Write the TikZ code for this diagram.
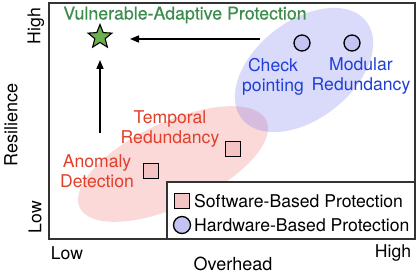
\documentclass[tikz,border=0pt]{standalone}
\usepackage{fontspec}
\setmainfont{TeX Gyre Heros}
\newfontfamily\titlefont[FakeBold=0.35]{TeX Gyre Heros}
\usetikzlibrary{shapes.geometric,arrows.meta}
\definecolor{txtred}{HTML}{E0402A}
\definecolor{txtblue}{HTML}{1F3FD8}
\definecolor{txtgreen}{HTML}{3C8C4C}
\definecolor{sqpink}{HTML}{F4C4C4}
\definecolor{circblue}{HTML}{C4C4F4}
\definecolor{ellred}{HTML}{EE6B6B}
\definecolor{ellblue}{HTML}{6B6BEE}
\definecolor{stargreen}{HTML}{6AB04C}
\definecolor{framegray}{HTML}{333333}
\tikzset{
  lbl/.style={font=\fontsize{17.6}{20}\selectfont, align=center, inner sep=0pt},
  axlbl/.style={font=\fontsize{17.6}{20}\selectfont, inner sep=0pt},
  swsq/.style={draw=black, line width=1.3pt, fill=sqpink, minimum size=15.5pt, inner sep=0pt},
  hwc/.style={circle, draw=black, line width=1.3pt, fill=circblue, minimum size=16pt, inner sep=0pt},
  arr/.style={line width=1.5pt, -{Triangle[length=9pt,width=7pt]}},
}
\begin{document}
\begin{tikzpicture}[x=1pt,y=1pt]
\useasboundingbox (0,0) rectangle (420,273);
% ellipses
\fill[ellred, opacity=0.26, rotate around={25:(173,109)}] (173,109) ellipse [x radius=103, y radius=42];
\fill[ellblue, opacity=0.25, rotate around={38:(304,203)}] (304,203) ellipse [x radius=79, y radius=49];
% frame
\draw[framegray, line width=1.1pt] (49,34) rectangle (415,270);
% legend box
\draw[framegray, line width=1.1pt, fill=white] (167,34) rectangle (415,91);
\node[swsq] (lsq) at (182,72) {};
\node[hwc, minimum size=17pt] (lci) at (182,48) {};
\node[lbl, anchor=west] (lsw) at (194,72) {Software-Based Protection};
\node[lbl, anchor=west] (lhw) at (194,48) {Hardware-Based Protection};
% title
\node[lbl, text=txtgreen, font=\titlefont\fontsize{17.8}{20}\selectfont] (title) at (185,258) {Vulnerable-Adaptive Protection};
% star
\node[star, star points=5, star point ratio=2.3, minimum size=25pt, inner sep=0pt, draw=black, line width=1.1pt, fill=stargreen] (star) at (100,236) {};
% arrows
\coordinate (hstart) at (260,234);
\coordinate (hend) at (130,234);
\coordinate (vstart) at (100,140);
\coordinate (vend) at (100,213);
\draw[arr] (hstart) -- (hend);
\draw[arr] (vstart) -- (vend);
% hardware circles
\node[hwc] (cp) at (302,230) {};
\node[hwc] (mr) at (352,230) {};
\node[lbl, text=txtblue] (cptxt) at (273,196.5) {Check\\pointing};
\node[lbl, text=txtblue] (mrtxt) at (361,196.5) {Modular\\Redundancy};
% software squares
\node[swsq] (ad) at (151,102) {};
\node[swsq] (tr) at (233,124) {};
\node[lbl, text=txtred] (trtxt) at (170,144) {Temporal\\Redundancy};
\node[lbl, text=txtred] (adtxt) at (97,101.5) {Anomaly\\Detection};
% axis labels
\node[axlbl, font=\fontsize{18}{20}\selectfont, rotate=90] (res) at (11,148) {Resilience};
\node[axlbl, rotate=90] (yhigh) at (36,247) {High};
\node[axlbl, rotate=90] (ylow) at (35,56) {Low};
\node[axlbl] (xlow) at (67,20) {Low};
\node[axlbl] (xhigh) at (393,20) {High};
\node[axlbl, font=\fontsize{18}{20}\selectfont] (ovh) at (233,9) {Overhead};
\end{tikzpicture}
\end{document}
